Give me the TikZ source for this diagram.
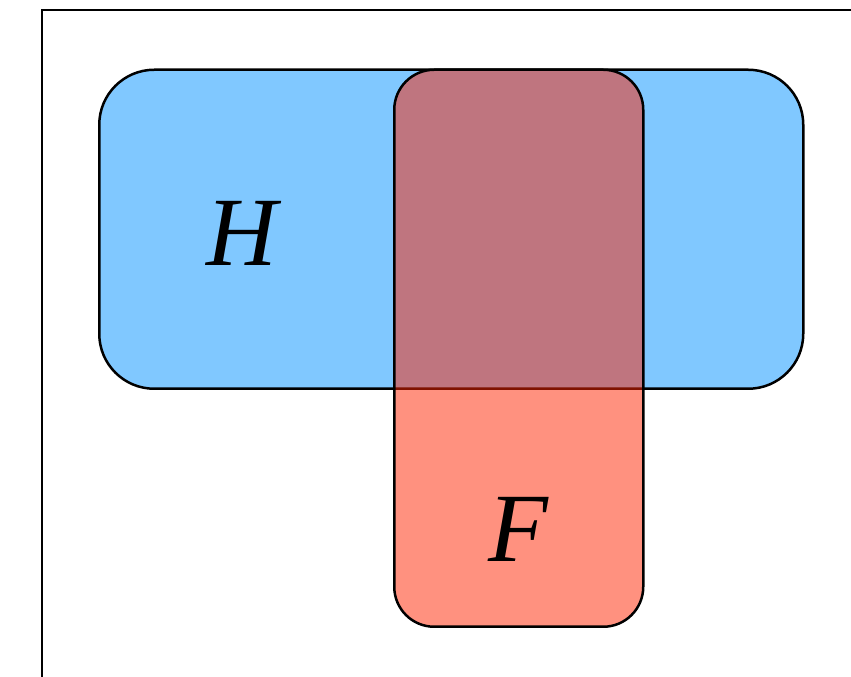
\documentclass[tikz,border=0pt]{standalone}
\usepackage{fontspec}
\setmainfont{Liberation Serif}
\begin{document}
\begin{tikzpicture}[x=1pt,y=1pt,
  setbox/.style={draw=black,line width=2.5pt},
  lbl/.style={font=\fontsize{98}{98}\selectfont\itshape, inner sep=0pt}]
\definecolor{hblue}{RGB}{128,200,255}
\definecolor{fred}{RGB}{255,36,0}
\useasboundingbox (0,0) rectangle (851,677);
\draw[line width=2.2pt] (42,-20) -- (42,667) -- (880,667);
\node[setbox, fill=hblue, rounded corners=55pt, minimum width=704pt, minimum height=319pt, anchor=south west] (H) at (98,287) {};
\node[setbox, fill=fred, fill opacity=0.5, rounded corners=40pt, minimum width=249pt, minimum height=557pt, anchor=south west] (F) at (393,49) {};
\node[lbl] (hl) at (242,444) {H};
\node[lbl] (fl) at (518,148) {F};
\end{tikzpicture}
\end{document}
